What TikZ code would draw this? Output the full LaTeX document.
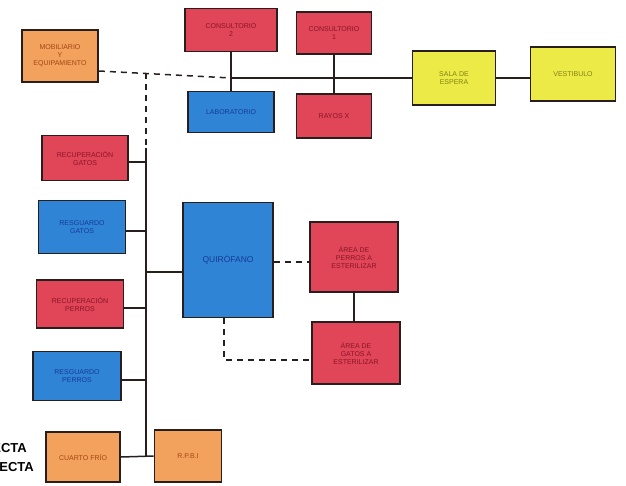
\documentclass[tikz,border=0pt]{standalone}
\usepackage{fontspec}
\setsansfont{Liberation Sans}
\usetikzlibrary{positioning,calc}

\definecolor{boxline}{RGB}{40,30,30}
\definecolor{redfill}{RGB}{224,70,88}
\definecolor{redtext}{RGB}{140,20,40}
\definecolor{bluefill}{RGB}{48,132,214}
\definecolor{bluetext}{RGB}{20,60,150}
\definecolor{orangefill}{RGB}{242,162,92}
\definecolor{orangetext}{RGB}{165,70,25}
\definecolor{yellowfill}{RGB}{236,234,70}
\definecolor{yellowtext}{RGB}{130,130,20}

\tikzset{
  room/.style={draw=boxline, line width=1.8pt, align=center, inner sep=2pt,
    font=\sffamily\fontsize{7}{8}\selectfont},
  redroom/.style={room, fill=redfill, text=redtext},
  blueroom/.style={room, fill=bluefill, text=bluetext},
  orangeroom/.style={room, fill=orangefill, text=orangetext},
  yellowroom/.style={room, fill=yellowfill, text=yellowtext},
  link/.style={draw=boxline, line width=1.5pt},
  legendtext/.style={font=\sffamily\bfseries\fontsize{13}{15}\selectfont, inner sep=0pt}
}

\begin{document}
\begin{tikzpicture}[x=1pt, y=-1pt]
  \useasboundingbox (0,0) rectangle (626,485);

  % zona de consulta
  \node[orangeroom, minimum width=76pt, minimum height=52pt] (mob) at (60,56) {MOBILIARIO\\Y\\EQUIPAMIENTO};
  \node[redroom, minimum width=92pt, minimum height=43pt] (cons2) at (231,30) {CONSULTORIO\\2};
  \node[redroom, minimum width=75pt, minimum height=42pt] (cons1) at (334,33) {CONSULTORIO\\1};
  \node[blueroom, minimum width=86pt, minimum height=41pt] (lab) at (231,112) {LABORATORIO};
  \node[redroom, minimum width=75pt, minimum height=44pt] (rayos) at (334,116) {RAYOS X};
  \node[yellowroom, minimum width=83pt, minimum height=54pt] (sala) at (454,78) {SALA DE\\ESPERA};
  \node[yellowroom, minimum width=85pt, minimum height=54pt] (vest) at (573,74) {VESTIBULO};

  % zona de hospital
  \node[redroom, minimum width=86pt, minimum height=45pt] (recg) at (85,158) {RECUPERACIÓN\\GATOS};
  \node[blueroom, minimum width=87pt, minimum height=53pt] (resg) at (82,227) {RESGUARDO\\GATOS};
  \node[redroom, minimum width=87pt, minimum height=48pt] (recp) at (80,304) {RECUPERACIÓN\\PERROS};
  \node[blueroom, minimum width=88pt, minimum height=49pt] (resp) at (77,376) {RESGUARDO\\PERROS};
  \node[orangeroom, minimum width=74pt, minimum height=50pt] (frio) at (83,457) {CUARTO FRÍO};
  \node[orangeroom, minimum width=67pt, minimum height=52pt] (rpbi) at (188,456) {R.P.B.I};
  \node[blueroom, minimum width=90pt, minimum height=115pt, font=\sffamily\fontsize{8.5}{10}\selectfont] (quiro) at (228,260) {QUIRÓFANO};
  \node[redroom, minimum width=88pt, minimum height=70pt] (perros) at (354,257) {ÁREA DE\\PERROS A\\ESTERILIZAR};
  \node[redroom, minimum width=88pt, minimum height=62pt] (gatos) at (356,353) {ÁREA DE\\GATOS A\\ESTERILIZAR};

  % leyenda (cortada por el borde)
  \node[legendtext, anchor=east] (directa) at (27,448) {DIRECTA};
  \node[legendtext, anchor=east] (indirecta) at (34,467) {INDIRECTA};

  % uniones
  \coordinate (hub) at (lab.north |- sala.west);
  \coordinate (mobout) at ($(mob.east)+(0,15)$);
  \coordinate (dashjoin) at ($(mobout)!0.355!(hub)$);
  \coordinate (spinetop) at (dashjoin |- 0,148);
  \coordinate (spinebot) at (spinetop |- frio.east);

  \draw[link] (cons2.south) -- (lab.north);
  \draw[link] (cons1.south) -- (rayos.north);
  \draw[link] (hub) -- (sala.west);
  \draw[link] (sala.east) -- (sala.east -| vest.west);
  \draw[link, dashed, dash pattern=on 6pt off 5pt] (mobout) -- (hub);
  \draw[link, dashed, dash pattern=on 6pt off 5pt] (dashjoin) -- (spinetop);

  \draw[link] (spinetop) -- (spinebot);
  \foreach \r in {recg, resg, recp, resp}
    \draw[link] ([yshift=-4pt]\r.east) -- ([yshift=-4pt]\r.east -| spinetop);
  \draw[link] (frio.east) -- (rpbi.west);
  \draw[link] ([yshift=-12pt]quiro.west) -- ([yshift=-12pt]quiro.west -| spinetop);

  \draw[link, dashed, dash pattern=on 6pt off 5pt] ([yshift=-2pt]quiro.east) -- ([yshift=-2pt]quiro.east -| perros.west);
  \draw[link] (perros.south) -- (perros.south |- gatos.north);
  \draw[link, dashed, dash pattern=on 6pt off 5pt] ([xshift=-4pt]quiro.south) |- ([yshift=-7pt]gatos.west);
\end{tikzpicture}
\end{document}
